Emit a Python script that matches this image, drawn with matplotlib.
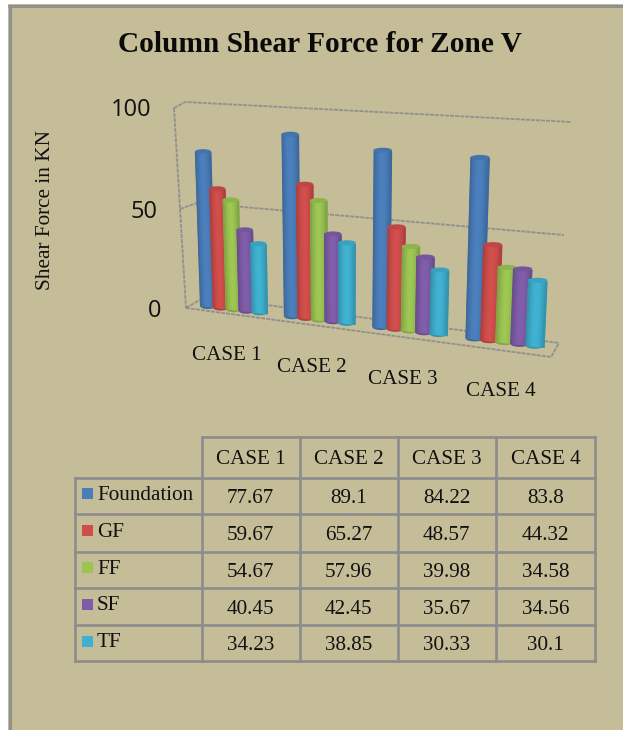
import numpy as np
import matplotlib
matplotlib.use('Agg')
import matplotlib.pyplot as plt
from matplotlib.patches import Ellipse, Rectangle
from matplotlib.transforms import Transform
from matplotlib.colors import to_rgb

cases = ['CASE 1', 'CASE 2', 'CASE 3', 'CASE 4']
series_names = ['Foundation', 'GF', 'FF', 'SF', 'TF']
foundation = [77.67, 89.1, 84.22, 83.8]
gf = [59.67, 65.27, 48.57, 44.32]
ff = [54.67, 57.96, 39.98, 34.58]
sf = [40.45, 42.45, 35.67, 34.56]
tf = [34.23, 38.85, 30.33, 30.1]
cell_text = [['77.67', '89.1', '84.22', '83.8'],
             ['59.67', '65.27', '48.57', '44.32'],
             ['54.67', '57.96', '39.98', '34.58'],
             ['40.45', '42.45', '35.67', '34.56'],
             ['34.23', '38.85', '30.33', '30.1']]
y_ticks = [0, 50, 100]

colors = ['#4a7ebb', '#cf4d4b', '#9bc452', '#7f5ca8', '#3fb0cf']
bg = '#c4bd97'
edge = '#8c8c8c'
serif = 'Liberation Serif'


class TiltedChart(Transform):
    """(case position, value) -> pixel position, mimics the tilted 3D view."""
    input_dims = 2
    output_dims = 2

    def transform_non_affine(self, values):
        values = np.asarray(values, dtype=float)
        u, v = values[:, 0], values[:, 1]
        x = 208 + 82 * u + 2.3 * u**2
        base = 307 + 0.122 * (x - 208)
        scale = 2.0 + 0.00065 * (x - 208)
        top_x = x + v * (x - 340) * 0.00048
        return np.column_stack([top_x, base - v * scale])


fig = plt.figure(figsize=(6.23, 7.30), dpi=100, facecolor='white')
ax = fig.add_axes([0, 0, 1, 1])
ax.set_xlim(0, 623)
ax.set_ylim(730, 0)
ax.axis('off')

# page background
ax.add_patch(Rectangle((8, 4), 620, 730, facecolor=bg, edgecolor='none', zorder=0))
ax.plot([9.5, 9.5], [730, 5.5], color='#909090', lw=2.2, zorder=1, solid_capstyle='butt')
ax.plot([8, 623], [5.5, 5.5], color='#909090', lw=2.2, zorder=1, solid_capstyle='butt')

ax.text(320, 44, 'Column Shear Force for Zone V', family=serif, weight='bold',
        fontsize=21.2, ha='center', va='center', color='#0a0a0a')
ax.text(46, 210, 'Shear Force in KN', family=serif, fontsize=15.3, rotation=90,
        ha='center', va='center', color='#111111')

# walls and floor of the 3D box
frame_lines = [
    ([174, 180, 186], [108, 209, 308]),
    ([174, 185, 571], [108, 102, 122]),
    ([180, 197, 564], [209, 203, 235]),
    ([186, 205, 559], [308, 297, 343]),
    ([186, 551, 559], [308, 357, 343]),
]
for fx, fy in frame_lines:
    ax.plot(fx, fy, color='#83858f', lw=1.3, ls=(0, (2.2, 0.6)), alpha=0.8, zorder=2)

tick_x = [155, 144, 131]
tick_y = [311, 212, 110]
for t, tx, ty in zip(y_ticks, tick_x, tick_y):
    ax.text(tx, ty, str(t), family='Open Sans', fontsize=17, ha='center', va='center',
            color='#111111')

case_label_x = [227, 312, 403, 501]
case_label_y = [355.5, 367.5, 379.5, 391.5]
for name, lx, ly in zip(cases, case_label_x, case_label_y):
    ax.text(lx, ly, name, family=serif, fontsize=15.2, ha='center', va='center', color='#111111')

# cylinders, each one built from narrow shaded bars
tilted = TiltedChart() + ax.transData
all_series = [foundation, gf, ff, sf, tf]
bar_w = 0.19
spacing = 0.155
n_strips = 10
for i in range(len(cases)):
    for j, vals in enumerate(all_series):
        u = i + j * spacing
        v = vals[i]
        c = np.array(to_rgb(colors[j]))
        z = 5 + j * 0.1
        # solid body first so no seams show between the strips
        ax.bar(u, v, width=bar_w, color=c * 0.95, lw=0, zorder=z, transform=tilted)
        for s in range(n_strips):
            f = (s + 0.5) / n_strips
            shade = 0.8 + 0.22 * np.sin(np.pi * f)
            ax.bar(u - bar_w / 2 + f * bar_w, v, width=bar_w / n_strips * 1.3,
                   color=np.clip(c * shade, 0, 1), lw=0, zorder=z, transform=tilted)
        # round cap and foot of the cylinder
        (lx, ly), (rx, ry) = TiltedChart().transform(
            np.array([[u - bar_w / 2, v], [u + bar_w / 2, v]]))
        (bl, by), (br, _) = TiltedChart().transform(
            np.array([[u - bar_w / 2, 0], [u + bar_w / 2, 0]]))
        ax.add_patch(Ellipse(((lx + rx) / 2, (ly + ry) / 2), rx - lx, 5,
                             facecolor=np.clip(c * 0.92, 0, 1), edgecolor='none', zorder=z + 0.01))
        ax.add_patch(Ellipse(((bl + br) / 2, by), br - bl, 6,
                             facecolor=np.clip(c * 0.85, 0, 1), edgecolor='none', zorder=z - 0.01))

# data table below the chart
col_x = [75, 201.5, 299.5, 397.5, 496, 595]
row_y = [437, 477.5, 514, 551.5, 588, 625, 661]
for k, x in enumerate(col_x):
    top = row_y[1] if k == 0 else row_y[0]
    ax.plot([x, x], [top, row_y[-1]], color=edge, lw=1.9, zorder=3, solid_capstyle='projecting')
for k, y in enumerate(row_y):
    left = col_x[1] if k == 0 else col_x[0]
    ax.plot([left, col_x[-1]], [y, y], color=edge, lw=1.9, zorder=3, solid_capstyle='projecting')

for c, name in enumerate(cases):
    ax.text((col_x[c + 1] + col_x[c + 2]) / 2, 459.5, name, family=serif, fontsize=15.2,
            ha='center', va='center', color='#111111')
for r, name in enumerate(series_names):
    cy = (row_y[r + 1] + row_y[r + 2]) / 2
    ax.add_patch(Rectangle((82, cy - 7.5), 11, 11, facecolor=colors[r], edgecolor='none', zorder=4))
    ax.text(97, cy - 0.5, name, family=serif, fontsize=15.2, ha='left', va='center', color='#111111')
    for c in range(len(cases)):
        ax.text((col_x[c + 1] + col_x[c + 2]) / 2, cy + 3, cell_text[r][c], family=serif,
                fontsize=15.2, ha='center', va='center', color='#111111')

fig.savefig('out.png', dpi=100)
